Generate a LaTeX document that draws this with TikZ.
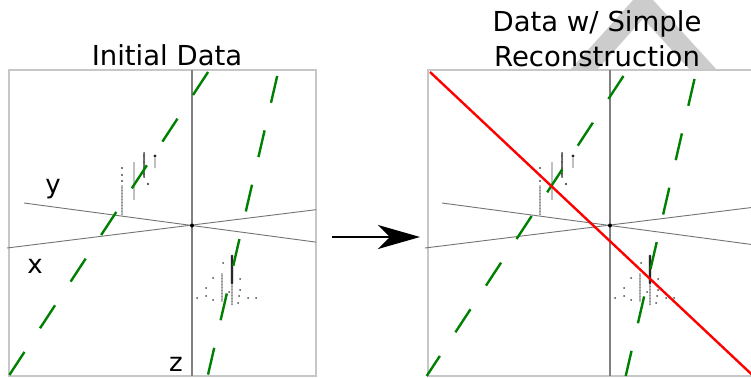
\documentclass[tikz,border=0pt]{standalone}
\usepackage{fontspec}
\setmainfont{DejaVu Sans}
\usetikzlibrary{arrows.meta}
\definecolor{mgreen}{rgb}{0,0.5,0}
\definecolor{boxgray}{gray}{0.78}
\definecolor{wmgray}{gray}{0.8}
\tikzset{
 panelbox/.style={draw=boxgray, line width=2pt},
 axisline/.style={draw=black!50, line width=1.2pt},
 crossline/.style={draw=black!55, line width=0.9pt},
 fitline/.style={draw=mgreen, line width=2.4pt, dash pattern=on 27.5pt off 28.3pt},
 recline/.style={draw=red, line width=2.4pt},
 titletext/.style={font=\fontsize{27.5}{32}\selectfont, anchor=base, inner sep=0pt},
 axlabel/.style={font=\fontsize{26}{30}\selectfont, anchor=base, inner sep=0pt},
 ptA/.style={fill=black!70},
 ptB/.style={fill=black!50},
 ptC/.style={fill=black!85},
}
% #1 line A start y, #2 line B start y, #3 right end x of cross lines
\newcommand\mypanelcontent[3]{%
 \draw[axisline] (192,70.5) -- (192,376);
 \draw[crossline] (24,203) -- (#3,{203+0.134*(#3-24)});
 \draw[crossline] (7,248) -- (#3,{248-0.124*(#3-7)});
 % cluster 1
 \foreach \yy in {168,175,181} \fill[ptA] (122,\yy) circle[radius=1.1pt];
 \foreach \yy in {186,187.5,...,215} \fill[ptB] (122,\yy) circle[radius=0.9pt];
 \foreach \yy in {163,165,...,200} \fill[ptB] (134,\yy) circle[radius=0.8pt];
 \foreach \yy in {153,154.2,...,178} \fill[ptA] (144,\yy) circle[radius=1pt];
 \fill[ptC] (155,156) circle[radius=1.6pt];
 \foreach \yy in {159,161,...,167} \fill[ptB] (155,\yy) circle[radius=0.8pt];
 \fill[ptC] (148,184) circle[radius=1.1pt];
 % cluster 2
 \foreach \yy in {256,257,...,283} \fill[ptC] (232,\yy) circle[radius=1.3pt];
 \foreach \yy in {285,286.5,...,305} \fill[ptB] (232,\yy) circle[radius=0.8pt];
 \foreach \yy in {274,275.5,...,302} \fill[ptB] (222,\yy) circle[radius=0.8pt];
 \foreach \px/\py in {197/298,206/288,206/296,213/278,213/300,223/263,240/279,240/290,239/296,248/298,256/298,238/303,229/292}
   \fill[ptA] (\px,\py) circle[radius=1pt];
 \fill (192,225.5) circle[radius=2pt];
 % fitted lines
 \draw[fitline] ({209.4-0.656*(#1-70)},#1) -- (8.7,376);
 \draw[fitline] ({277.2-0.2316*(#2-76)},#2) -- (207.7,376);
}
\begin{document}
\begin{tikzpicture}[x=1pt,y=-1pt]
\useasboundingbox (0,0) rectangle (751,377);
\clip (0,0) rectangle (751,377);
% watermark (inverted V)
\fill[wmgray] (570,70) -- (643,-11) -- (717,70) -- (690,70) -- (643,18.6) -- (597,70) -- cycle;
% titles
\node[titletext] (t1) at (167,66) {Initial Data};
\node[titletext] (t2a) at (597,32) {Data w/ Simple};
\node[titletext] (t2b) at (597,66.7) {Reconstruction};
% left panel
\draw[panelbox] (9,70.5) rectangle (316,376);
\mypanelcontent{72}{76}{316}
\node[axlabel] (ly) at (53,193) {y};
\node[axlabel] (lx) at (35,273) {x};
\node[axlabel] (lz) at (176,371.5) {z};
% right panel
\draw[panelbox] (428,70.5) rectangle (800,376);
\begin{scope}[shift={(418,0)}]
\mypanelcontent{76}{79}{345}
\end{scope}
\coordinate (r1) at (430,72);
\coordinate (r2) at (770,391.6);
\draw[recline] (r1) -- (r2);
% arrow
\coordinate (a1) at (332,237);
\coordinate (a2) at (420,237);
\draw[line width=2pt, -{Stealth[length=42pt,width=24pt,inset=12pt]}] (a1) -- (a2);
\end{tikzpicture}
\end{document}
